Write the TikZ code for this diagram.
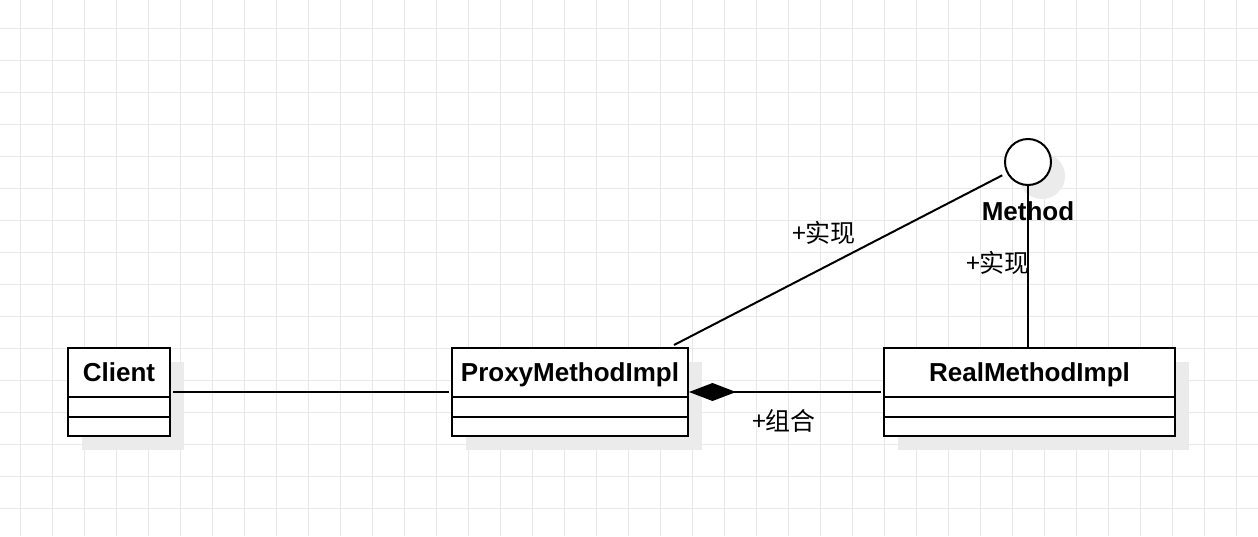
\documentclass[tikz,border=0pt]{standalone}
\usepackage{fontspec}
\setmainfont{Liberation Sans}
\newfontfamily\cjk{Noto Sans CJK SC}
\usetikzlibrary{arrows.meta,shadows}

\tikzset{
  gridline/.style={draw=black!9, line width=1pt},
  umlline/.style={draw=black, line width=2pt},
  classbox/.style={draw=black, fill=white, line width=2pt, rectangle,
    minimum height=88pt, inner sep=0pt,
    drop shadow={shadow xshift=14pt, shadow yshift=-14pt, fill=black!8, opacity=1}},
  ifacecircle/.style={draw=black, fill=white, line width=2pt, circle,
    minimum size=46pt, inner sep=0pt,
    drop shadow={shadow xshift=14pt, shadow yshift=-14pt, fill=black!8, opacity=1}},
  classname/.style={font=\fontsize{26}{30}\selectfont\bfseries, inner sep=0pt, anchor=base},
  rolelabel/.style={font=\cjk\fontsize{25}{30}\selectfont, inner sep=0pt}
}

\begin{document}
\begin{tikzpicture}[x=1pt, y=-1pt]
				\useasboundingbox[fill=white] (0,0) rectangle (1258,536);
				
				% background grid
				\foreach \gx in {20,52,...,1258} \draw[gridline] (\gx,0) -- (\gx,536);
				\foreach \gy in {28,60,...,536} \draw[gridline] (0,\gy) -- (1258,\gy);
				
				% classes
				\node[classbox, minimum width=102pt] (client) at (119,392) {};
				\node[classname] (clientname) at ([yshift=-34pt]client.north) {Client};
				\draw[umlline] ([yshift=-50pt]client.north west) -- ([yshift=-50pt]client.north east);
				\draw[umlline] ([yshift=-70pt]client.north west) -- ([yshift=-70pt]client.north east);
				
				\node[classbox, minimum width=236pt] (proxy) at (570,392) {};
				\node[classname] (proxyname) at ([yshift=-34pt]proxy.north) {ProxyMethodImpl};
				\draw[umlline] ([yshift=-50pt]proxy.north west) -- ([yshift=-50pt]proxy.north east);
				\draw[umlline] ([yshift=-70pt]proxy.north west) -- ([yshift=-70pt]proxy.north east);
				
				\node[classbox, minimum width=291pt] (real) at (1029.5,392) {};
				\node[classname] (realname) at ([yshift=-34pt]real.north) {RealMethodImpl};
				\draw[umlline] ([yshift=-50pt]real.north west) -- ([yshift=-50pt]real.north east);
				\draw[umlline] ([yshift=-70pt]real.north west) -- ([yshift=-70pt]real.north east);
				
				% interface
				\node[ifacecircle] (method) at (1028,162) {};
				\node[classname] (methodname) at (1028,220) {Method};
				
				% connectors
				\draw[umlline, shorten <=2pt, shorten >=2pt] (client) -- (proxy);
				\draw[umlline, {Diamond[length=47pt, width=18pt]}-, shorten >=2pt] (proxy.east) -- (real.west);
				\coordinate (proxytop) at ([xshift=104pt, yshift=2pt]proxy.north);
				\draw[umlline, shorten <=5pt] (method) -- (proxytop);
				\draw[umlline] (method.south) -- (method.south |- real.north);
				
				% labels
				\node[rolelabel] (implproxy) at (824,233) {+实现};
				\node[rolelabel] (implreal) at (998,263) {+实现};
				\node[rolelabel] (compose) at (784,421) {+组合};
			\end{tikzpicture}
\end{document}
